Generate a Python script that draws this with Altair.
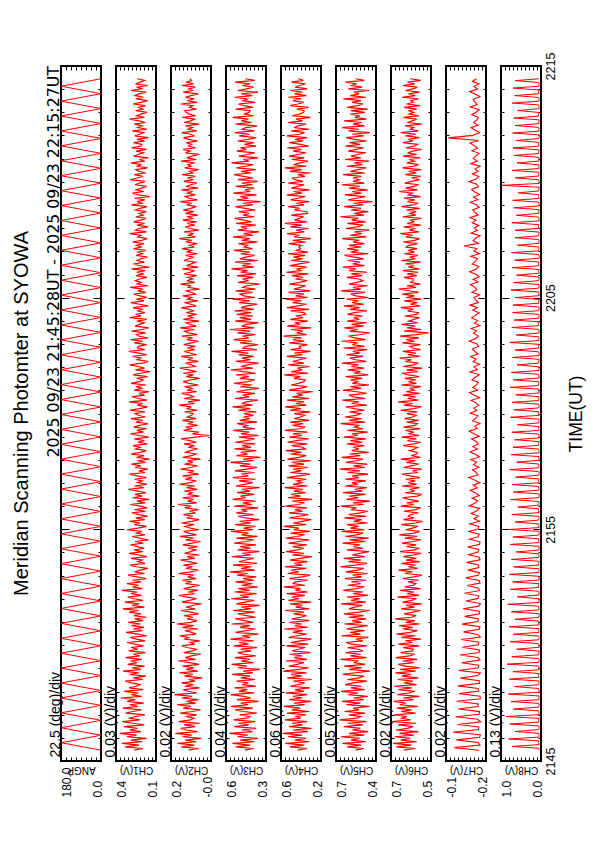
import altair as alt
import numpy as np
import pandas as pd

FONT = "Liberation Sans"
TITLE = "Meridian Scanning Photomter at SYOWA"
HEADER = "2025 09/23 21:45:28UT - 2025 09/23 22:15:27UT"
T_START = 28 / 60          # minutes after 21:45 (21:45:28)
T_END = 30 - 33 / 60       # 22:15:27
TIME_TICKS = [0, 10, 20, 30]
TIME_LABELS = ["2145", "2155", "2205", "2215"]

CHANNELS = ["ANGP", "CH1(V)", "CH2(V)", "CH3(V)", "CH4(V)", "CH5(V)", "CH6(V)", "CH7(V)", "CH8(V)"]
DIV_LABELS = ["22.5 (deg)/div", "0.03 (V)/div", "0.02 (V)/div", "0.04 (V)/div", "0.06 (V)/div",
              "0.05 (V)/div", "0.02 (V)/div", "0.02 (V)/div", "0.13 (V)/div"]
HI = [180.0, 0.4, 0.2, 0.6, 0.6, 0.7, 0.7, -0.1, 1.0]
LO = [0.0, 0.1, 0.0, 0.3, 0.2, 0.4, 0.5, -0.2, 0.0]
HI_LABELS = ["180.0", "0.4", "0.2", "0.6", "0.6", "0.7", "0.7", "-0.1", "1.0"]
LO_LABELS = ["0.0", "0.1", "-0.0", "0.3", "0.2", "0.4", "0.5", "-0.2", "0.0"]
NDIV = [8, 10, 10, 10, 10, 10, 10, 10, 10]
UNIT = [1.0, 0.001, 0.001, 0.001, 0.001, 0.001, 0.001, 0.001, 0.001]
LINE_W = [1.0, 1.2, 1.2, 1.2, 1.2, 1.2, 1.2, 1.1, 1.0]

ANGP_DEG = [0, 180, 0, 180, 0, 180, 0, 180, 0, 180, 0, 180, 0, 180, 0, 180, 0, 180, 0, 180,
            0, 180, 0, 180, 0, 180, 0, 180, 0, 180, 0, 180, 0, 180, 0, 180, 0, 180, 0, 180,
            0, 180, 0, 180, 0, 180, 0, 180, 0, 180, 0, 180, 0, 180, 0, 180, 0, 180, 0, 180,
            0, 180, 0, 180, 0, 180, 0, 180, 0, 180, 0, 180, 0, 180, 0, 180, 0, 180, 0, 180,
            0, 180, 0, 180, 0, 180, 0, 180, 0, 180, 0]

CH1_MV = [262, 198, 331, 227, 356, 204, 289, 171, 318, 246, 372, 213, 297, 239, 341, 188, 276, 352, 221, 305,
          251, 183, 327, 274, 209, 349, 236, 298, 192, 316, 255, 364, 207, 284, 231, 339, 196, 301, 248, 219,
          283, 331, 201, 268, 176, 295, 229, 347, 212, 279, 186, 312, 244, 290, 207, 328, 223, 271, 179, 304,
          236, 287, 194, 262, 318, 181, 247, 293, 169, 238, 324, 203, 271, 189, 283, 215, 309, 197, 259, 173,
          266, 214, 301, 232, 348, 187, 279, 226, 335, 198, 264, 312, 208, 287, 241, 356, 203, 275, 229, 318,
          214, 276, 173, 243, 309, 186, 258, 221, 161, 249, 296, 182, 237, 205, 288, 167, 231, 302, 199, 264,
          188, 239, 291, 196, 257, 158, 226, 279, 183, 245, 207, 318, 236, 171, 262, 219, 297, 184, 251, 163,
          227, 281, 179, 259, 168, 214, 293, 181, 244, 152, 276, 203, 258, 175, 233, 307, 193, 262, 169, 238,
          204, 261, 172, 243, 298, 183, 229, 161, 257, 212, 284, 178, 239, 148, 246, 191, 289, 217, 172, 252,
          219, 273, 166, 236, 187, 262, 154, 228, 291, 195, 244, 171, 268, 221, 160, 249, 201, 287, 179, 234,
          256, 182, 297, 224, 163, 241, 199, 302, 168, 236, 281, 186, 228, 151, 263, 207, 248, 176, 287, 223,
          197, 245, 163, 271, 218, 144, 253, 186, 233, 298, 201, 159, 241, 214, 276, 169, 227, 304, 184, 239,
          231, 171, 262, 199, 291, 162, 226, 247, 178, 282, 206, 155, 257, 224, 187, 243, 168, 297, 212, 252,
          183, 236, 204, 273, 158, 222, 289, 191, 246, 167, 219, 266, 176, 232, 198, 294, 161, 241, 214, 255,
          224, 168, 251, 193, 244, 181, 283, 149, 229, 262, 187, 241, 217, 164, 248, 201, 236, 177, 269, 206,
          246, 189, 277, 208, 166, 237, 213, 298, 172, 254, 231, 159, 243, 186, 268, 215, 174, 251, 196, 227,
          173, 254, 221, 167, 285, 198, 242, 183, 262, 147, 231, 276, 192, 249, 209, 169, 257, 223, 181, 294,
          239, 196, 263, 177, 228, 251, 163, 245, 209, 287, 184, 226, 158, 267, 232, 194, 249, 171, 283, 212,
          207, 268, 184, 242, 157, 259, 221, 192, 278, 168, 237, 203, 261, 179, 226, 297, 188, 244, 215, 166,
          252, 198, 231, 179, 271, 214, 163, 248, 195, 257, 226, 174, 288, 207, 239, 161, 253, 219, 186, 241]

CH2_MV = [112, 61, 148, 83, 167, 74, 129, 49, 141, 97, 178, 68, 121, 152, 79, 134, 57, 161, 103, 86,
          127, 71, 154, 92, 53, 139, 101, 169, 76, 122, 63, 146, 94, 183, 72, 115, 138, 58, 131, 88,
          147, 79, 113, 44, 132, 91, 158, 66, 124, 86, 141, 59, 108, 164, 77, 128, 99, 51, 136, 93,
          73, 121, 146, 82, 104, 56, 133, 112, 157, 74, 97, 129, 64, 142, 87, 171, 102, 69, 119, 91,
          134, 62, 101, 151, 79, 124, 93, 48, 145, 108, 72, 117, 159, 83, 114, 66, 137, 96, 57, 128,
          98, 144, 74, 116, 87, 162, 103, 64, 125, 92, 138, 69, 111, 153, 81, 119, 58, 132, 101, 77,
          116, 67, 141, 94, 52, 127, 89, 156, 73, 112, 136, 61, 104, 129, 84, 148, 97, 59, 121, 91,
          138, 78, 107, 63, 131, 99, 166, 71, 117, 88, 142, 58, 113, 94, 133, 69, 122, 81, 157, 102,
          74, 128, 93, 142, 62, 109, 86, 151, 101, 67, 132, 91, 118, 53, 141, 97, 76, 127, 104, 68,
          114, 84, 135, 73, 103, 149, 79, 8, 92, 61, 137, 99, 126, 67, 111, 88, 143, 75, 118, 96,
          89, 131, 68, 122, 99, 158, 83, 114, 56, 134, 87, 106, 147, 72, 115, 94, 132, 63, 109, 139,
          103, 57, 124, 88, 139, 73, 111, 156, 79, 97, 127, 64, 116, 91, 149, 71, 106, 133, 82, 119,
          79, 136, 98, 62, 121, 93, 145, 68, 112, 131, 84, 154, 74, 105, 124, 59, 138, 91, 113, 72,
          124, 87, 109, 148, 73, 101, 132, 66, 117, 97, 141, 78, 96, 128, 57, 114, 103, 152, 81, 121,
          92, 117, 71, 134, 104, 82, 143, 64, 122, 99, 77, 136, 110, 89, 127, 67, 118, 98, 145, 83,
          108, 69, 126, 95, 158, 78, 113, 87, 134, 61, 104, 129, 81, 119, 72, 141, 93, 115, 66, 128,
          86, 139, 101, 74, 122, 97, 153, 68, 109, 133, 79, 118, 92, 147, 64, 124, 102, 71, 136, 88,
          119, 78, 144, 91, 107, 62, 131, 99, 116, 83, 149, 73, 121, 95, 58, 128, 104, 139, 77, 112,
          97, 124, 66, 113, 137, 85, 102, 146, 71, 118, 93, 127, 59, 134, 101, 82, 143, 76, 109, 125,
          131, 73, 108, 92, 152, 69, 117, 84, 128, 101, 63, 139, 94, 111, 78, 146, 88, 121, 97, 106]

CH3_MV = [458, 392, 527, 419, 551, 386, 493, 361, 514, 437, 574, 402, 481, 373, 538, 429, 506, 381, 543, 447,
          421, 497, 369, 468, 532, 397, 561, 433, 489, 356, 518, 414, 463, 566, 389, 502, 441, 536, 374, 478,
          434, 521, 383, 488, 419, 553, 398, 471, 346, 509, 444, 558, 393, 486, 421, 533, 377, 467, 512, 411,
          489, 367, 541, 431, 503, 392, 567, 418, 479, 357, 528, 447, 381, 496, 419, 559, 396, 462, 531, 378,
          447, 512, 386, 547, 413, 484, 349, 523, 458, 388, 562, 429, 493, 371, 536, 423, 508, 362, 481, 404,
          529, 392, 471, 373, 518, 438, 572, 384, 487, 409, 546, 368, 501, 451, 391, 553, 414, 478, 351, 513,
          417, 493, 376, 539, 446, 393, 522, 364, 482, 431, 563, 397, 469, 379, 531, 412, 498, 352, 456, 509,
          393, 523, 441, 487, 358, 538, 406, 473, 379, 549, 452, 491, 388, 516, 421, 481, 347, 527, 459, 398,
          502, 379, 547, 432, 483, 388, 533, 444, 366, 497, 419, 567, 393, 471, 343, 521, 438, 489, 372, 536,
          412, 478, 381, 531, 449, 386, 503, 357, 487, 428, 546, 383, 474, 441, 516, 367, 496, 423, 469, 394,
          466, 372, 508, 417, 551, 401, 483, 447, 361, 532, 427, 476, 384, 521, 453, 354, 491, 403, 539, 436,
          386, 497, 429, 524, 377, 468, 563, 398, 488, 441, 356, 527, 414, 481, 392, 506, 433, 558, 369, 472,
          452, 361, 494, 408, 543, 429, 476, 381, 513, 419, 572, 388, 482, 449, 355, 531, 412, 496, 397, 519,
          411, 536, 392, 486, 443, 364, 503, 422, 551, 383, 467, 494, 401, 528, 379, 474, 446, 348, 509, 431,
          477, 394, 518, 376, 491, 437, 559, 391, 479, 413, 532, 362, 497, 451, 386, 489, 421, 541, 402, 463,
          438, 506, 363, 482, 421, 547, 396, 468, 351, 513, 441, 488, 377, 524, 409, 463, 536, 389, 472, 426,
          503, 381, 457, 529, 398, 474, 342, 518, 433, 492, 371, 546, 418, 457, 388, 527, 401, 481, 363, 511,
          396, 468, 541, 412, 487, 376, 522, 449, 397, 558, 427, 471, 358, 504, 436, 383, 519, 447, 492, 374,
          462, 389, 513, 436, 372, 501, 423, 536, 386, 479, 451, 367, 528, 409, 484, 432, 549, 393, 461, 427,
          419, 527, 396, 464, 508, 381, 472, 441, 537, 402, 486, 359, 511, 448, 393, 477, 418, 532, 384, 455]

CH4_MV = [433, 341, 512, 368, 556, 318, 462, 352, 531, 389, 583, 331, 478, 296, 517, 384, 491, 339, 562, 402,
          447, 351, 539, 317, 492, 408, 571, 362, 468, 299, 516, 388, 481, 336, 554, 371, 459, 312, 508, 426,
          362, 477, 293, 537, 392, 499, 346, 578, 418, 324, 521, 437, 371, 552, 341, 468, 389, 512, 304, 487,
          424, 358, 547, 329, 501, 409, 296, 523, 438, 347, 482, 381, 566, 335, 462, 393, 517, 318, 494, 402,
          346, 473, 368, 559, 318, 452, 387, 508, 301, 526, 421, 491, 362, 543, 333, 457, 403, 571, 359, 478,
          457, 331, 516, 392, 307, 534, 422, 496, 348, 561, 386, 467, 336, 509, 404, 291, 488, 371, 548, 437,
          374, 483, 342, 524, 418, 316, 551, 439, 362, 503, 311, 472, 421, 574, 349, 478, 388, 298, 512, 414,
          327, 519, 384, 461, 341, 557, 426, 364, 486, 289, 532, 404, 497, 353, 472, 381, 563, 337, 479, 392,
          439, 348, 541, 418, 312, 508, 396, 477, 331, 524, 371, 492, 297, 536, 421, 348, 503, 397, 552, 356,
          381, 492, 339, 534, 447, 323, 518, 391, 481, 334, 559, 414, 357, 486, 376, 508, 318, 467, 406, 363,
          468, 308, 511, 399, 558, 349, 451, 369, 539, 317, 487, 384, 442, 281, 521, 412, 338, 499, 423, 371,
          358, 473, 406, 567, 329, 496, 389, 437, 313, 527, 371, 482, 418, 346, 543, 384, 466, 307, 503, 402,
          416, 336, 518, 367, 479, 396, 576, 344, 443, 382, 497, 301, 538, 409, 462, 331, 507, 379, 451, 353,
          371, 503, 318, 541, 424, 347, 486, 396, 556, 333, 453, 369, 524, 309, 472, 406, 352, 516, 413, 338,
          454, 381, 493, 329, 547, 401, 438, 342, 512, 417, 316, 498, 387, 476, 359, 529, 331, 446, 404, 421,
          397, 523, 351, 482, 302, 468, 413, 539, 367, 447, 326, 506, 392, 561, 343, 464, 418, 374, 497, 336,
          342, 467, 412, 528, 371, 448, 319, 503, 427, 357, 541, 389, 473, 314, 496, 432, 368, 527, 381, 459,
          486, 359, 431, 304, 512, 393, 562, 348, 474, 408, 331, 491, 368, 519, 423, 352, 478, 396, 537, 324,
          403, 516, 377, 458, 339, 543, 411, 364, 497, 318, 468, 427, 351, 532, 384, 449, 306, 488, 416, 373,
          368, 441, 324, 509, 432, 373, 481, 399, 526, 346, 463, 388, 507, 337, 458, 412, 354, 496, 377, 428]

CH5_MV = [553, 492, 618, 511, 651, 476, 587, 523, 664, 489, 602, 458, 576, 517, 641, 498, 613, 472, 673, 541,
          514, 603, 481, 636, 528, 571, 449, 623, 517, 654, 493, 568, 462, 607, 534, 662, 486, 589, 509, 631,
          571, 468, 614, 527, 488, 649, 553, 446, 601, 507, 638, 482, 566, 532, 667, 471, 592, 514, 628, 497,
          533, 612, 469, 586, 627, 498, 549, 457, 659, 516, 594, 484, 621, 558, 463, 637, 508, 579, 474, 604,
          492, 641, 528, 447, 603, 561, 503, 662, 478, 587, 522, 618, 459, 571, 498, 646, 547, 489, 613, 516,
          583, 474, 633, 506, 574, 463, 626, 541, 491, 667, 557, 467, 607, 512, 641, 481, 578, 526, 452, 618,
          498, 568, 521, 651, 479, 597, 454, 628, 546, 497, 658, 486, 592, 531, 619, 463, 567, 507, 637, 472,
          604, 516, 461, 586, 547, 663, 493, 571, 446, 621, 532, 598, 478, 647, 503, 559, 469, 633, 538, 581,
          476, 631, 529, 578, 459, 612, 521, 672, 484, 568, 466, 626, 548, 497, 656, 518, 597, 454, 583, 527,
          573, 488, 619, 503, 592, 476, 641, 536, 578, 462, 613, 498, 561, 524, 664, 481, 601, 509, 634, 548,
          518, 598, 486, 561, 626, 468, 583, 529, 652, 479, 567, 603, 471, 543, 647, 511, 592, 452, 577, 533,
          591, 502, 628, 458, 564, 517, 611, 489, 586, 532, 655, 473, 553, 597, 496, 623, 521, 573, 466, 641,
          486, 577, 539, 658, 478, 561, 606, 512, 447, 598, 536, 637, 493, 584, 469, 617, 526, 567, 501, 614,
          562, 468, 596, 523, 642, 491, 579, 534, 621, 458, 551, 589, 481, 663, 514, 572, 463, 603, 542, 497,
          529, 619, 503, 586, 466, 602, 552, 648, 487, 574, 519, 611, 492, 559, 636, 458, 588, 531, 617, 511,
          603, 487, 571, 526, 654, 473, 593, 508, 561, 449, 627, 541, 497, 614, 476, 582, 533, 668, 491, 563,
          457, 586, 512, 638, 496, 569, 428, 608, 547, 481, 633, 509, 578, 463, 601, 522, 657, 488, 571, 526,
          572, 509, 647, 483, 591, 536, 474, 619, 501, 562, 452, 631, 514, 587, 539, 476, 609, 548, 492, 628,
          519, 598, 471, 562, 624, 493, 577, 447, 606, 529, 653, 487, 571, 508, 639, 472, 558, 521, 592, 481,
          589, 463, 616, 538, 497, 579, 512, 644, 476, 593, 527, 566, 449, 608, 503, 581, 546, 629, 488, 552]

CH6_MV = [636, 579, 672, 598, 689, 571, 651, 604, 681, 586, 657, 563, 675, 617, 589, 664, 574, 694, 603, 645,
          621, 683, 577, 649, 597, 671, 566, 656, 626, 687, 588, 639, 558, 668, 612, 581, 662, 596, 684, 572,
          634, 591, 666, 563, 645, 601, 678, 577, 654, 556, 628, 664, 587, 641, 569, 676, 607, 582, 651, 594,
          588, 639, 559, 663, 593, 628, 551, 648, 579, 672, 604, 568, 641, 592, 659, 557, 626, 581, 679, 598,
          574, 634, 591, 553, 649, 583, 624, 547, 643, 597, 572, 667, 561, 619, 585, 656, 552, 631, 589, 576,
          614, 563, 641, 586, 545, 631, 594, 662, 567, 612, 579, 648, 556, 625, 573, 639, 588, 549, 655, 581,
          562, 621, 574, 645, 589, 551, 631, 569, 658, 584, 557, 627, 593, 566, 648, 578, 543, 637, 586, 614,
          603, 564, 636, 577, 552, 651, 587, 621, 561, 609, 642, 568, 547, 629, 581, 606, 558, 646, 572, 613,
          579, 626, 555, 604, 644, 566, 592, 546, 637, 601, 561, 623, 578, 651, 554, 598, 571, 568, 608, 583,
          567, 639, 586, 551, 618, 573, 647, 559, 609, 589, 627, 553, 638, 581, 568, 621, 562, 632, 592, 574,
          621, 569, 652, 587, 548, 636, 591, 664, 564, 617, 578, 641, 556, 624, 584, 607, 551, 649, 573, 612,
          577, 631, 559, 611, 646, 566, 622, 544, 639, 588, 563, 628, 597, 657, 557, 616, 576, 642, 552, 593,
          606, 553, 643, 582, 624, 561, 655, 572, 512, 634, 549, 619, 579, 647, 566, 611, 586, 558, 631, 571,
          563, 618, 588, 651, 554, 603, 569, 634, 548, 624, 583, 644, 562, 609, 661, 575, 621, 553, 601, 589,
          589, 635, 571, 619, 564, 641, 558, 613, 584, 627, 553, 648, 579, 604, 566, 633, 582, 614, 569, 624,
          611, 567, 639, 582, 557, 626, 592, 653, 561, 608, 579, 637, 551, 619, 586, 601, 548, 642, 576, 604,
          574, 623, 556, 647, 591, 563, 618, 581, 636, 552, 613, 594, 659, 568, 627, 585, 561, 631, 597, 558,
          598, 552, 628, 574, 611, 549, 643, 587, 562, 621, 583, 608, 554, 639, 572, 617, 591, 548, 626, 581,
          567, 641, 589, 613, 558, 627, 576, 651, 563, 603, 587, 629, 547, 618, 594, 572, 638, 561, 609, 586,
          613, 571, 634, 556, 622, 589, 601, 563, 645, 578, 612, 557, 628, 593, 568, 641, 581, 617, 552, 604]

CH7_MV = [-183, -121, -185, -180, -126, -184, -186, -118, -181, -182, -129, -187, -179, -124, -183, -184, -131, -180,
          -181, -127, -186, -185, -133, -182, -180, -130, -184, -183, -136, -179, -186, -132, -181, -182, -139, -185,
          -180, -135, -183, -184, -141, -181, -182, -138, -186, -179, -144, -183, -185, -140, -180, -181, -147, -184,
          -183, -143, -182, -186, -150, -180, -182, -146, -184, -181, -153, -185, -183, -149, -180, -184, -155, -182,
          -181, -152, -185, -183, -157, -180, -182, -154, -184, -185, -159, -181, -183, -156, -180, -182, -160, -184,
          -170, -181, -163, -176, -184, -158, -172, -179, -165, -183, -174, -161, -178, -168, -185, -171, -157, -180,
          -175, -166, -182, -169, -177, -162, -184, -173, -160, -179, -167, -181, -176, -164, -183, -170, -158, -178,
          -172, -185, -166, -174, -180, -161, -177, -169, -182, -175, -163, -184, -171, -159, -179, -167, -176, -181,
          -165, -173, -183, -160, -178, -170, -184, -168, -175, -162, -180, -172, -166, -182, -177, -158, -174, -181,
          -169, -176, -163, -185, -171, -179, -164, -173, -183, -167, -178, -160, -181, -174, -170, -184, -165, -177,
          -172, -161, -180, -168, -183, -175, -159, -176, -182, -166, -173, -179, -162, -184, -170, -177, -145, -181,
          -168, -174, -185, -163, -178, -171, -182, -166, -175, -160, -180, -173, -167, -183, -176, -161, -179, -169,
          -184, -172, -164, -181, -177, -158, -175, -182, -166, -180, -173, -185, -162, -178, -168, -174, -183, -165,
          -179, -171, -160, -182, -106, -167, -184, -173, -163, -180, -169, -177, -181, -164, -175, -183, -161, -178,
          -172, -168, -185, -174, -159, -179, -170, -182, -166, -176]

CH8_MV = [48, 55, 720, 42, 62, 51, 810, 48, 51, 57, 640, 66, 45, 60, 780, 58, 60, 47, 870, 42,
          53, 58, 690, 61, 47, 54, 750, 52, 58, 44, 820, 44, 50, 63, 660, 63, 46, 52, 790, 57,
          61, 49, 700, 49, 54, 59, 850, 60, 43, 56, 730, 55, 59, 45, 610, 47, 52, 62, 770, 64,
          48, 53, 690, 51, 57, 46, 800, 45, 62, 58, 650, 58, 44, 51, 740, 53, 56, 63, 830, 49,
          50, 47, 600, 61, 47, 55, 760, 55, 63, 49, 710, 46, 52, 60, 790, 59, 45, 54, 680, 50,
          58, 46, 740, 62, 49, 61, 620, 54, 53, 48, 770, 47, 60, 57, 700, 57, 44, 52, 810, 51,
          56, 63, 650, 63, 48, 45, 730, 46, 61, 55, 580, 55, 50, 59, 760, 58, 45, 50, 690, 52,
          57, 62, 720, 49, 62, 47, 640, 56, 47, 53, 780, 60, 53, 58, 610, 44, 59, 46, 750, 50,
          46, 61, 700, 63, 55, 49, 660, 48, 51, 56, 730, 57, 60, 44, 590, 45, 49, 52, 760, 54,
          56, 63, 680, 61, 43, 58, 720, 52, 58, 47, 630, 47, 50, 55, 770, 59, 62, 48, 690, 46,
          54, 60, 740, 55, 48, 53, 600, 60, 57, 45, 710, 44, 45, 62, 650, 53, 61, 51, 780, 50,
          52, 57, 620, 58, 47, 63, 730, 63, 59, 49, 670, 49, 53, 56, 710, 56, 46, 61, 700, 51,
          60, 44, 640, 45, 55, 58, 750, 62, 48, 50, 690, 57, 51, 62, 610, 44, 58, 47, 720, 53,
          63, 55, 660, 49, 46, 60, 740, 60, 54, 48, 590, 47, 50, 57, 650, 56, 57, 45, 650, 52,
          61, 53, 730, 48, 44, 59, 620, 59, 53, 46, 680, 55, 49, 62, 710, 46, 60, 51, 570, 62,
          56, 48, 990, 51, 47, 63, 640, 58, 52, 55, 720, 45, 59, 49, 600, 54, 48, 61, 670, 61,
          55, 46, 700, 50, 62, 57, 630, 57, 45, 52, 710, 53, 51, 60, 650, 46, 58, 44, 680, 60,
          56, 63, 590, 49, 50, 55, 720, 55, 47, 58, 660, 52, 61, 49, 700, 48, 53, 57, 640, 51]

SERIES = [ANGP_DEG, CH1_MV, CH2_MV, CH3_MV, CH4_MV, CH5_MV, CH6_MV, CH7_MV, CH8_MV]

Y_TICK_EXPR = "datum.value % 10 == 0 ? -8 : -3"
TIME_EXPR = " : ".join(f"datum.value == {v} ? '{s}'" for v, s in zip(TIME_TICKS, TIME_LABELS)) + " : ''"


def panel(i):
    vals = np.array(SERIES[i], dtype=float) * UNIT[i]
    t = np.linspace(T_START, T_END, len(vals))
    df = pd.DataFrame({"t": t, "v": vals})
    lo, hi = LO[i], HI[i]
    step = (hi - lo) / NDIV[i]
    xticks = [lo + k * step for k in range(NDIV[i] + 1)]
    xticks[0], xticks[-1] = lo, hi
    yticks = list(range(0, 31))
    xscale = alt.Scale(domain=[lo, hi], reverse=True, nice=False, zero=False)
    yscale = alt.Scale(domain=[0, 30], nice=False, zero=False)
    label_expr = f"datum.value == {hi} ? '{HI_LABELS[i]}' : datum.value == {lo} ? '{LO_LABELS[i]}' : ''"

    x_bottom = alt.Axis(
        orient="bottom", values=xticks, labelExpr=label_expr, tickSize={"expr": "-4"},
        tickColor="black", tickWidth=1, domain=False, grid=False,
        labelAngle=270, labelAlign="left",
        labelBaseline={"condition": {"test": f"datum.value == {hi}", "value": "top"}, "value": "alphabetic"},
        labelPadding=40, labelFont=FONT, labelFontSize=12, labelColor="black",
        labelOverlap=False, labelFlush=False,
        title=CHANNELS[i], titleAngle=180, titleX=20, titleY=8, titleAlign="center",
        titleBaseline="middle", titleFont=FONT, titleFontSize=10, titleFontWeight="normal", titleColor="black")
    x_top = alt.Axis(orient="top", values=xticks, labels=False, tickSize={"expr": "-4"},
                     tickColor="black", tickWidth=1, domain=False, grid=False, title=None)
    y_left = alt.Axis(
        orient="left", values=yticks, labels=False, tickSize={"expr": Y_TICK_EXPR},
        tickColor="black", tickWidth=1, domain=False, grid=False,
        title=DIV_LABELS[i], titleAngle=270, titleAlign="left", titleBaseline="alphabetic",
        titleX=-2, titleY=691, titleFont=FONT, titleFontSize=14, titleFontWeight="normal", titleColor="black")
    if i == len(SERIES) - 1:
        y_right = alt.Axis(
            orient="right", values=yticks, tickSize={"expr": Y_TICK_EXPR},
            tickColor="black", tickWidth=1, domain=False, grid=False,
            labelExpr=TIME_EXPR, labelAngle=270, labelAlign="center", labelBaseline="top",
            labelPadding=11, labelFont=FONT, labelFontSize=12.5, labelColor="black",
            labelOverlap=False, labelFlush=False, labelBound=False,
            title="TIME(UT)", titleAngle=270, titleAlign="center", titleBaseline="alphabetic",
            titleX=40, titleY=347.5, titleFont=FONT, titleFontSize=17.5, titleFontWeight="normal",
            titleColor="black")
    else:
        y_right = alt.Axis(orient="right", values=yticks, labels=False, tickSize={"expr": Y_TICK_EXPR},
                           tickColor="black", tickWidth=1, domain=False, grid=False, title=None)

    line = alt.Chart(df).mark_line(color="#ff0000", strokeWidth=LINE_W[i], clip=True).encode(
        x=alt.X("v:Q", scale=xscale, axis=x_bottom),
        y=alt.Y("t:Q", scale=yscale, axis=y_left),
        order=alt.Order("t:Q"),
    )
    frame = alt.Chart(df).mark_line(opacity=0).encode(
        x=alt.X("v:Q", scale=xscale, axis=x_top),
        y=alt.Y("t:Q", scale=yscale, axis=y_right),
        order=alt.Order("t:Q"),
    )
    layers = [line, frame]
    if i == 0:
        title = alt.Chart(pd.DataFrame({"s": [TITLE]})).mark_text(
            angle=270, align="center", baseline="alphabetic", font=FONT, fontSize=20, color="black"
        ).encode(text="s:N", x=alt.value(-33), y=alt.value(347.5))
        header = alt.Chart(pd.DataFrame({"s": [HEADER]})).mark_text(
            angle=270, align="right", baseline="alphabetic", font="DejaVu Sans", fontSize=15.8, color="black"
        ).encode(text="s:N", x=alt.value(-2), y=alt.value(0))
        layers += [title, header]
    return alt.layer(*layers).resolve_axis(x="independent", y="independent").properties(width=40, height=695)


chart = alt.hconcat(*[panel(i) for i in range(len(SERIES))], spacing=15, bounds="flush").properties(
    padding={"left": 3, "top": 43, "right": 0, "bottom": 5}
).configure_view(stroke="black", strokeWidth=2)

chart.save("out.html", embed_options={"renderer": "svg", "actions": False})
